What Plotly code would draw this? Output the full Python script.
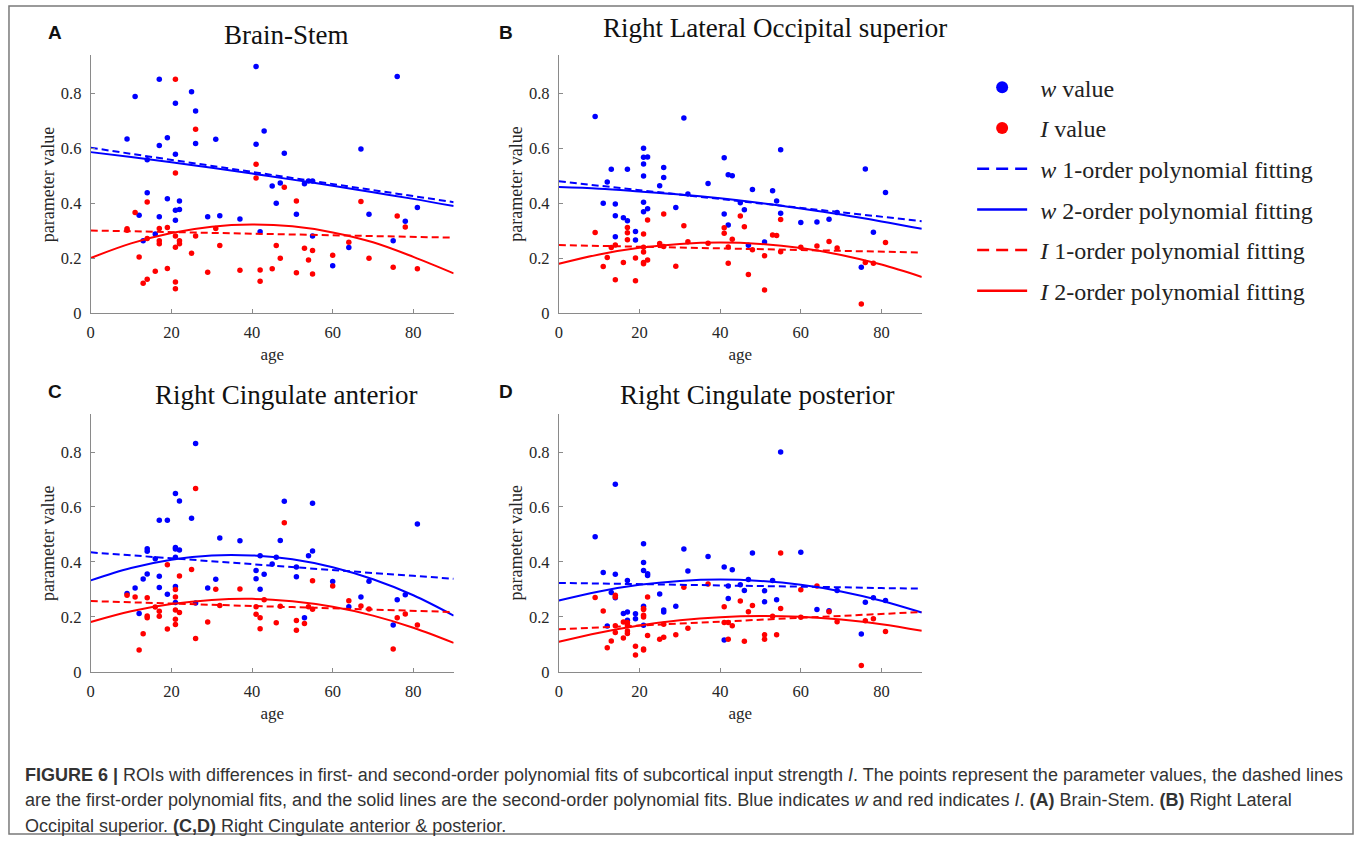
import plotly.graph_objects as go

W, H = 1359, 848

# ---------------- data ----------------
# Panel A: Brain-Stem
a_w_age = [11, 9, 17, 17, 19, 21, 21, 25, 26, 26, 31, 41, 41, 43, 48, 14, 14, 19, 21, 22, 22, 21, 12, 17, 16, 13,
           29, 32, 37, 42, 45, 47, 46, 51, 53, 54, 55, 55, 60, 64, 67, 69, 75, 76, 78, 81]
a_w_val = [0.788, 0.634, 0.851, 0.61, 0.638, 0.764, 0.578, 0.806, 0.736, 0.617, 0.633, 0.897, 0.615, 0.663, 0.582,
           0.558, 0.438, 0.416, 0.375, 0.377, 0.408, 0.338, 0.356, 0.351, 0.288, 0.264, 0.351, 0.355, 0.343, 0.296,
           0.463, 0.474, 0.40, 0.36, 0.471, 0.481, 0.481, 0.281, 0.173, 0.239, 0.597, 0.36, 0.264, 0.861, 0.335, 0.385]
a_i_age = [21, 26, 41, 41, 48, 21, 14, 11, 51, 67, 76, 78, 9, 9, 17, 19, 31, 21, 26, 14, 17, 17, 22, 22, 21, 32,
           46, 53, 55, 64, 25, 12, 47, 54, 60, 69, 16, 19, 29, 37, 42, 45, 51, 55, 75, 81, 13, 14, 21, 21, 42]
a_i_val = [0.851, 0.669, 0.542, 0.492, 0.458, 0.51, 0.405, 0.366, 0.408, 0.406, 0.354, 0.314, 0.307, 0.302, 0.308,
           0.312, 0.308, 0.281, 0.281, 0.272, 0.264, 0.253, 0.264, 0.253, 0.24, 0.246, 0.246, 0.236, 0.228, 0.258,
           0.218, 0.205, 0.20, 0.194, 0.211, 0.20, 0.153, 0.163, 0.149, 0.156, 0.157, 0.162, 0.147, 0.143, 0.167,
           0.162, 0.109, 0.124, 0.114, 0.089, 0.116]

# Panel B: Right Lateral Occipital superior
b_w_age = [9, 31, 21, 21, 22, 21, 21, 13, 17, 12, 26, 26, 25, 37, 41, 42, 43, 55, 76, 81, 48, 53, 54, 45, 32, 11,
           14, 21, 21, 22, 14, 16, 17, 29, 46, 41, 42, 55, 60, 64, 67, 69, 19, 19, 14, 47, 51, 75, 78]
b_w_val = [0.716, 0.71, 0.60, 0.567, 0.568, 0.543, 0.499, 0.524, 0.524, 0.477, 0.53, 0.494, 0.464, 0.472, 0.566,
           0.504, 0.50, 0.595, 0.525, 0.439, 0.45, 0.446, 0.408, 0.402, 0.434, 0.40, 0.397, 0.404, 0.369, 0.38,
           0.355, 0.347, 0.336, 0.385, 0.376, 0.361, 0.321, 0.364, 0.33, 0.332, 0.342, 0.366, 0.297, 0.266, 0.278,
           0.247, 0.259, 0.167, 0.295]
b_i_age = [9, 26, 45, 55, 22, 31, 46, 41, 17, 17, 21, 41, 53, 54, 17, 43, 67, 81, 32, 37, 25, 14, 13, 26, 21, 42,
           60, 64, 69, 48, 55, 21, 21, 21, 22, 12, 19, 51, 16, 11, 29, 42, 76, 78, 14, 19, 47, 51, 75]
b_i_val = [0.294, 0.361, 0.354, 0.341, 0.339, 0.318, 0.315, 0.311, 0.312, 0.293, 0.288, 0.291, 0.285, 0.283, 0.267,
           0.269, 0.261, 0.257, 0.26, 0.255, 0.254, 0.248, 0.239, 0.243, 0.24, 0.241, 0.24, 0.245, 0.237, 0.231,
           0.224, 0.223, 0.185, 0.18, 0.194, 0.203, 0.201, 0.209, 0.185, 0.17, 0.171, 0.182, 0.185, 0.182, 0.122,
           0.118, 0.141, 0.085, 0.034]

# Panel C: Right Cingulate anterior
c_w_age = [26, 21, 22, 48, 55, 17, 19, 25, 81, 32, 37, 47, 14, 14, 21, 21, 22, 55, 54, 42, 16, 21, 46, 45, 41, 43,
           41, 42, 51, 51, 14, 13, 17, 31, 11, 17, 21, 29, 21, 26, 9, 19, 12, 60, 69, 67, 64, 53, 76, 78, 75]
c_w_val = [0.831, 0.649, 0.622, 0.621, 0.614, 0.552, 0.552, 0.559, 0.538, 0.487, 0.477, 0.478, 0.448, 0.439,
           0.453, 0.447, 0.444, 0.44, 0.423, 0.423, 0.412, 0.417, 0.417, 0.393, 0.369, 0.355, 0.339, 0.301, 0.382,
           0.346, 0.356, 0.338, 0.348, 0.337, 0.305, 0.307, 0.311, 0.305, 0.253, 0.251, 0.285, 0.283, 0.213, 0.329,
           0.33, 0.273, 0.237, 0.197, 0.263, 0.281, 0.171]
c_i_age = [26, 48, 19, 25, 22, 55, 60, 31, 37, 21, 21, 9, 11, 14, 43, 64, 16, 17, 17, 32, 41, 47, 54, 55, 67, 69,
           21, 22, 14, 14, 21, 21, 41, 42, 29, 46, 51, 53, 42, 51, 19, 76, 78, 81, 13, 26, 12, 75]
c_i_val = [0.667, 0.543, 0.39, 0.373, 0.349, 0.332, 0.313, 0.301, 0.302, 0.30, 0.273, 0.279, 0.273, 0.27, 0.263,
           0.259, 0.236, 0.221, 0.203, 0.242, 0.237, 0.239, 0.237, 0.228, 0.24, 0.229, 0.225, 0.216, 0.204, 0.197,
           0.192, 0.173, 0.21, 0.197, 0.182, 0.179, 0.187, 0.176, 0.157, 0.152, 0.156, 0.197, 0.211, 0.171, 0.139,
           0.122, 0.08, 0.084]

# Panel D: Right Cingulate posterior
d_w_age = [55, 14, 9, 21, 31, 48, 60, 37, 21, 41, 43, 21, 22, 22, 32, 11, 14, 17, 47, 53, 45, 42, 46, 51, 69, 25,
           13, 14, 42, 54, 51, 78, 81, 76, 21, 29, 64, 67, 16, 17, 19, 26, 26, 17, 19, 12, 21, 41, 75]
d_w_val = [0.80, 0.683, 0.492, 0.466, 0.447, 0.433, 0.435, 0.42, 0.398, 0.382, 0.372, 0.369, 0.357, 0.351, 0.367,
           0.362, 0.355, 0.333, 0.336, 0.333, 0.317, 0.313, 0.296, 0.295, 0.296, 0.284, 0.289, 0.27, 0.267, 0.263,
           0.255, 0.27, 0.26, 0.254, 0.239, 0.239, 0.227, 0.223, 0.213, 0.218, 0.212, 0.225, 0.218, 0.188, 0.194,
           0.167, 0.17, 0.116, 0.138]
d_i_age = [55, 37, 31, 64, 60, 9, 14, 14, 22, 45, 48, 11, 21, 21, 41, 55, 47, 67, 21, 21, 53, 60, 76, 78, 69, 16,
           17, 17, 41, 42, 43, 26, 14, 14, 17, 17, 22, 32, 81, 51, 54, 29, 16, 25, 26, 51, 42, 46, 13, 12, 19, 21,
           21, 19, 75]
d_i_val = [0.433, 0.32, 0.308, 0.313, 0.299, 0.271, 0.279, 0.273, 0.273, 0.258, 0.242, 0.222, 0.231, 0.227, 0.237,
           0.231, 0.219, 0.219, 0.206, 0.20, 0.203, 0.199, 0.186, 0.194, 0.183, 0.182, 0.18, 0.174, 0.18, 0.18,
           0.168, 0.174, 0.168, 0.144, 0.149, 0.14, 0.133, 0.159, 0.147, 0.135, 0.135, 0.135, 0.124, 0.119, 0.126,
           0.119, 0.119, 0.112, 0.113, 0.088, 0.094, 0.084, 0.08, 0.062, 0.024]

# Fitted curves, read at these ages
fit_age = [0, 10, 20, 30, 40, 50, 60, 70, 80, 90]
a_w_fit1 = [0.602, 0.580, 0.558, 0.536, 0.514, 0.492, 0.470, 0.448, 0.426, 0.404]
a_w_fit2 = [0.586, 0.568, 0.549, 0.529, 0.508, 0.486, 0.464, 0.440, 0.416, 0.390]
a_i_fit1 = [0.301, 0.298, 0.295, 0.292, 0.289, 0.287, 0.284, 0.281, 0.278, 0.275]
a_i_fit2 = [0.201, 0.254, 0.292, 0.315, 0.3225, 0.316, 0.294, 0.258, 0.205, 0.145]
b_w_fit1 = [0.480, 0.464, 0.448, 0.432, 0.416, 0.399, 0.383, 0.367, 0.351, 0.335]
b_w_fit2 = [0.459, 0.453, 0.443, 0.432, 0.418, 0.401, 0.381, 0.359, 0.334, 0.307]
b_i_fit1 = [0.248, 0.245, 0.242, 0.239, 0.236, 0.233, 0.230, 0.227, 0.224, 0.221]
b_i_fit2 = [0.180, 0.214, 0.238, 0.252, 0.257, 0.252, 0.237, 0.212, 0.177, 0.132]
c_w_fit1 = [0.435, 0.424, 0.414, 0.403, 0.392, 0.382, 0.371, 0.360, 0.350, 0.339]
c_w_fit2 = [0.333, 0.378, 0.408, 0.424, 0.424, 0.410, 0.381, 0.337, 0.279, 0.205]
c_i_fit1 = [0.258, 0.253, 0.249, 0.245, 0.240, 0.236, 0.231, 0.227, 0.222, 0.218]
c_i_fit2 = [0.182, 0.221, 0.247, 0.262, 0.266, 0.257, 0.237, 0.205, 0.161, 0.106]
d_w_fit1 = [0.324, 0.322, 0.319, 0.317, 0.315, 0.312, 0.310, 0.308, 0.305, 0.303]
d_w_fit2 = [0.260, 0.293, 0.317, 0.331, 0.336, 0.331, 0.317, 0.293, 0.259, 0.216]
d_i_fit1 = [0.155, 0.162, 0.169, 0.176, 0.183, 0.190, 0.197, 0.204, 0.211, 0.218]
d_i_fit2 = [0.110, 0.143, 0.169, 0.188, 0.1995, 0.204, 0.201, 0.191, 0.174, 0.150]

titles = ["Brain-Stem", "Right Lateral Occipital superior", "Right Cingulate anterior", "Right Cingulate posterior"]
panel_letters = ["A", "B", "C", "D"]
x_ticks = [0, 20, 40, 60, 80]
y_ticks = [0, 0.2, 0.4, 0.6, 0.8]
legend_names = ["<i>w</i> value", "<i>I</i> value", "<i>w</i> 1-order polynomial fitting",
                "<i>w</i> 2-order polynomial fitting", "<i>I</i> 1-order polynomial fitting",
                "<i>I</i> 2-order polynomial fitting"]

panels = [
    (a_w_age, a_w_val, a_i_age, a_i_val, a_w_fit1, a_w_fit2, a_i_fit1, a_i_fit2),
    (b_w_age, b_w_val, b_i_age, b_i_val, b_w_fit1, b_w_fit2, b_i_fit1, b_i_fit2),
    (c_w_age, c_w_val, c_i_age, c_i_val, c_w_fit1, c_w_fit2, c_i_fit1, c_i_fit2),
    (d_w_age, d_w_val, d_i_age, d_i_val, d_w_fit1, d_w_fit2, d_i_fit1, d_i_fit2),
]

# ---------------- layout geometry (pixels) ----------------
col_x = [(87, 451), (556.5, 920.5)]
row_y = [(56, 317), (419, 680)]
title_pos = [(283, 35), (773, 28), (283, 400), (755, 400)]
letter_pos = [(51, 33), (503, 33), (51, 396), (503, 396)]
ylabel_x = [44, 514]

BLUE = "#0000ff"
RED = "#ff0000"
DASH = "7px,4px"
SERIF = "Liberation Serif, Times New Roman, serif"
AXC = "#8a8a8a"
TXT = "#262626"

fig = go.Figure()

def px_x(p):
    return p / W

def px_y(p):
    return 1 - p / H

annotations = []
layout_axes = {}
for k, data in enumerate(panels):
    r, c = divmod(k, 2)
    xa = "x" if k == 0 else f"x{k+1}"
    ya = "y" if k == 0 else f"y{k+1}"
    w_age, w_val, i_age, i_val, wf1, wf2, if1, if2 = data
    fig.add_trace(go.Scatter(x=w_age, y=w_val, mode="markers", xaxis=xa, yaxis=ya, showlegend=False,
                             marker=dict(color=BLUE, size=5.5, line=dict(width=0))))
    fig.add_trace(go.Scatter(x=i_age, y=i_val, mode="markers", xaxis=xa, yaxis=ya, showlegend=False,
                             marker=dict(color=RED, size=5.5, line=dict(width=0))))
    fig.add_trace(go.Scatter(x=fit_age, y=wf1, mode="lines", xaxis=xa, yaxis=ya, showlegend=False,
                             line=dict(color=BLUE, width=2, dash=DASH)))
    fig.add_trace(go.Scatter(x=fit_age, y=wf2, mode="lines", xaxis=xa, yaxis=ya, showlegend=False,
                             line=dict(color=BLUE, width=2, shape="spline")))
    fig.add_trace(go.Scatter(x=fit_age, y=if1, mode="lines", xaxis=xa, yaxis=ya, showlegend=False,
                             line=dict(color=RED, width=2, dash=DASH)))
    fig.add_trace(go.Scatter(x=fit_age, y=if2, mode="lines", xaxis=xa, yaxis=ya, showlegend=False,
                             line=dict(color=RED, width=2, shape="spline")))

    x0, x1 = col_x[c]
    y0, y1 = row_y[r]
    xkey = "xaxis" if k == 0 else f"xaxis{k+1}"
    ykey = "yaxis" if k == 0 else f"yaxis{k+1}"
    layout_axes[xkey] = dict(
        domain=[px_x(x0), px_x(x1)], anchor=ya, range=[0, 90], tickvals=x_ticks,
        showgrid=False, zeroline=False, showline=True, linecolor=AXC, linewidth=1,
        ticks="inside", ticklen=4, tickcolor=AXC, ticklabelstandoff=4,
        tickfont=dict(family=SERIF, size=16.5, color=TXT),
        title=dict(text="age", font=dict(family=SERIF, size=17, color=TXT), standoff=7),
    )
    layout_axes[ykey] = dict(
        domain=[px_y(y1), px_y(y0)], anchor=xa, range=[0, 0.938], tickvals=y_ticks,
        showgrid=False, zeroline=False, showline=True, linecolor=AXC, linewidth=1,
        ticks="inside", ticklen=4, tickcolor=AXC, ticklabelstandoff=5,
        tickfont=dict(family=SERIF, size=16.5, color=TXT),
    )
    annotations.append(dict(text="parameter value", x=px_x(ylabel_x[c]), y=px_y((y0 + y1) / 2),
                            xref="paper", yref="paper", xanchor="center", yanchor="middle",
                            textangle=-90, showarrow=False,
                            font=dict(family=SERIF, size=18, color=TXT)))

# legend-only entries
leg_specs = [
    dict(mode="markers", marker=dict(color=BLUE, size=12)),
    dict(mode="markers", marker=dict(color=RED, size=12)),
    dict(mode="lines", line=dict(color=BLUE, width=2.5, dash="12px,7px")),
    dict(mode="lines", line=dict(color=BLUE, width=2.5)),
    dict(mode="lines", line=dict(color=RED, width=2.5, dash="12px,7px")),
    dict(mode="lines", line=dict(color=RED, width=2.5)),
]
for j, (name, spec) in enumerate(zip(legend_names, leg_specs)):
    fig.add_trace(go.Scatter(x=[None], y=[None], name="\u00a0\u200a" + name, legendgroup=f"g{j}",
                             showlegend=True, **spec))

for k in range(4):
    tx, ty = title_pos[k]
    annotations.append(dict(text=titles[k], x=px_x(tx), y=px_y(ty), xref="paper", yref="paper",
                            xanchor="center", yanchor="middle", showarrow=False,
                            font=dict(family=SERIF, size=27, color="#111111")))
    lx, ly = letter_pos[k]
    annotations.append(dict(text=f"<b>{panel_letters[k]}</b>", x=px_x(lx), y=px_y(ly), xref="paper", yref="paper",
                            xanchor="center", yanchor="middle", showarrow=False,
                            font=dict(family="Liberation Sans, Arial, sans-serif", size=19, color="#111111")))

caption_lines = [
    "<b>FIGURE 6 |</b> ROIs with differences in first- and second-order polynomial fits of subcortical input strength <i>I</i>. The points represent the parameter values, the dashed lines",
    "are the first-order polynomial fits, and the solid lines are the second-order polynomial fits. Blue indicates <i>w</i> and red indicates <i>I</i>. <b>(A)</b> Brain-Stem. <b>(B)</b> Right Lateral",
    "Occipital superior. <b>(C,D)</b> Right Cingulate anterior &amp; posterior.",
]
cap_y = [784, 810, 836]
for line, cy in zip(caption_lines, cap_y):
    annotations.append(dict(text=line, x=px_x(19), y=px_y(cy), xref="paper", yref="paper",
                            xanchor="left", yanchor="middle", showarrow=False, align="left",
                            font=dict(family="Liberation Sans Narrow, Arial Narrow, Liberation Sans, sans-serif",
                                      size=18, color="#333333")))

fig.update_layout(
    width=W, height=H, margin=dict(l=0, r=0, t=0, b=0),
    paper_bgcolor="white", plot_bgcolor="white",
    showlegend=True,
    legend=dict(x=px_x(971), y=px_y(66), xanchor="left", yanchor="top",
                font=dict(family=SERIF, size=24, color="#222222"),
                bgcolor="rgba(0,0,0,0)", borderwidth=0, itemwidth=50,
                tracegroupgap=6.5, traceorder="grouped"),
    annotations=annotations,
    shapes=[dict(type="rect", xref="paper", yref="paper", x0=px_x(5), x1=px_x(1353), y0=px_y(844), y1=px_y(6),
                 line=dict(color="#7a7a7a", width=1.5), fillcolor="rgba(0,0,0,0)")],
    **layout_axes,
)

fig.write_html("out.html")
